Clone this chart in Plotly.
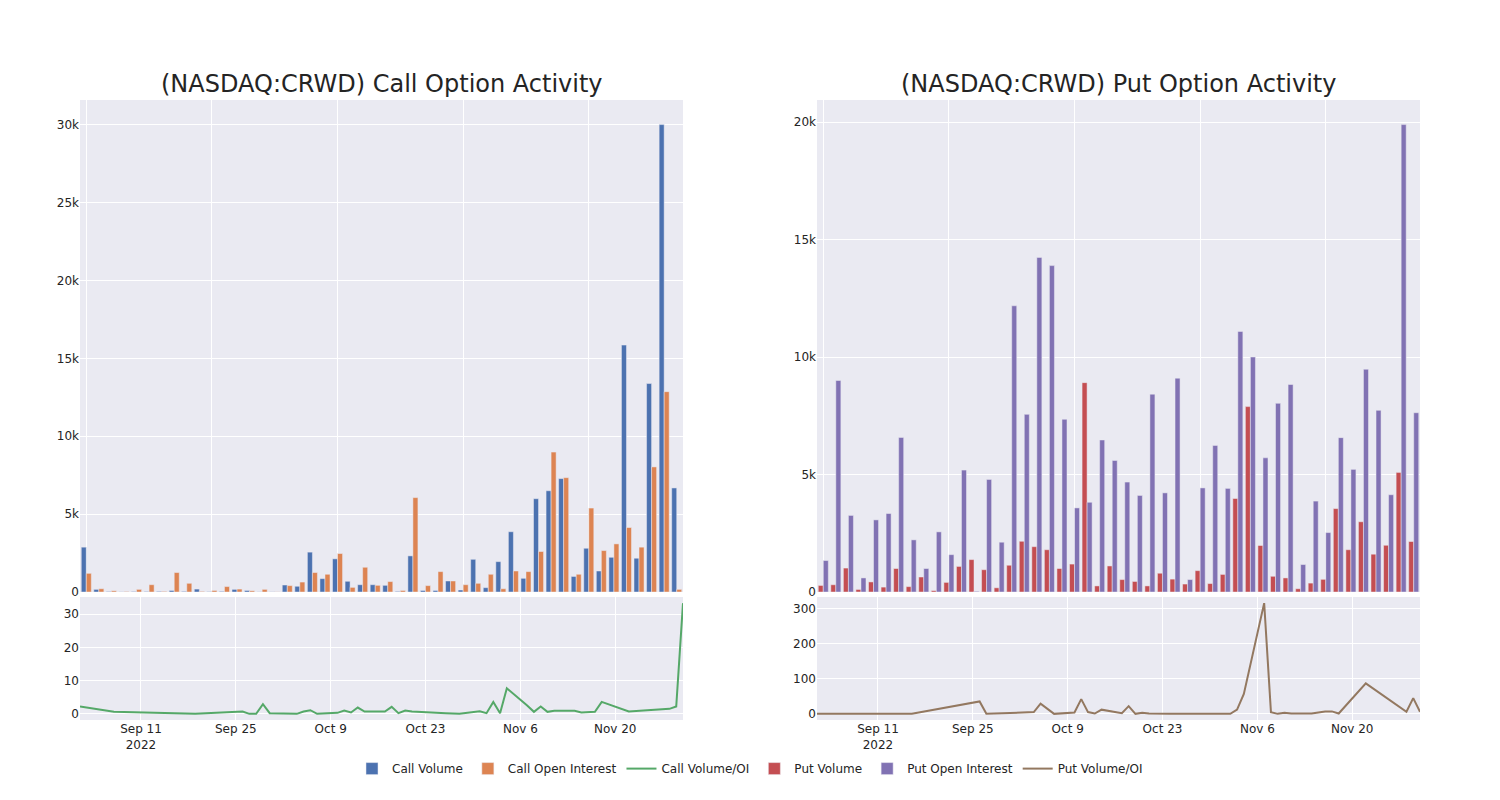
import plotly.graph_objects as go
from plotly.subplots import make_subplots

dates = ["2022-09-02", "2022-09-07", "2022-09-13", "2022-09-14", "2022-09-16", "2022-09-19",
         "2022-09-26", "2022-09-27", "2022-09-28", "2022-09-29", "2022-09-30", "2022-10-04",
         "2022-10-05", "2022-10-06", "2022-10-07", "2022-10-10", "2022-10-11", "2022-10-12",
         "2022-10-13", "2022-10-14", "2022-10-17", "2022-10-18", "2022-10-19", "2022-10-20",
         "2022-10-21", "2022-10-24", "2022-10-25", "2022-10-26", "2022-10-28", "2022-10-31",
         "2022-11-01", "2022-11-02", "2022-11-03", "2022-11-04", "2022-11-07", "2022-11-08",
         "2022-11-09", "2022-11-10", "2022-11-11", "2022-11-14", "2022-11-15", "2022-11-16",
         "2022-11-17", "2022-11-18", "2022-11-22", "2022-11-28", "2022-11-29", "2022-11-30"]

call_volume = [2880, 170, 30, 10, 30, 30, 40, 100, 40, 190, 20, 40, 170, 100, 10, 10,
               450, 370, 2560, 860, 2130, 690, 470, 470, 430, 40, 2320, 100, 100, 710, 130, 2100,
               280, 1950, 3870, 880, 5990, 6500, 7280, 1000, 2810, 1350, 2230, 15850, 2170, 13380,
               30000, 6680]
call_oi = [1200, 210, 80, 30, 170, 470, 40, 1250, 560, 40, 100, 350, 190, 80, 170, 10,
           410, 640, 1250, 1140, 2470, 300, 1590, 430, 670, 100, 6060, 410, 1310, 710, 470, 560,
           1140, 210, 1350, 1310, 2600, 8980, 7340, 1140, 5390, 2660, 3090, 4140, 2880, 8030,
           12860, 170]
call_ratio = [2.2, 0.6, 0.35, 0.3, 0.0, 0.0, 0.7, 0.0, 0.0, 2.9, 0.2, 0.0, 0.7, 1.1, 0.0, 0.3,
              1.0, 0.4, 1.9, 0.7, 0.7, 2.1, 0.2, 1.0, 0.7, 0.3, 0.25, 0.2, 0.0, 0.8, 0.2, 3.6,
              0.2, 7.7, 2.5, 0.6, 2.2, 0.6, 0.9, 0.9, 0.4, 0.4, 0.6, 3.6, 0.7, 1.5, 2.2, 33.3]

put_volume = [280, 310, 1020, 110, 430, 210, 1000, 230, 640, 60, 410, 1090, 1380, 950, 180, 1140,
              2160, 1930, 1800, 1000, 1190, 8910, 260, 1110, 530, 450, 260, 800, 550, 340, 910, 360,
              750, 3980, 7890, 1980, 670, 600, 140, 380, 540, 3550, 1800, 2990, 1610, 1990, 5090, 2150]
put_oi = [1340, 9000, 3260, 600, 3070, 3340, 6580, 2220, 1000, 2560, 1590, 5190, 30, 4790, 2120, 12180,
          7560, 14240, 13890, 7350, 3580, 3820, 6470, 5600, 4680, 4110, 8420, 4220, 9100, 530, 4430, 6240,
          4410, 11090, 10000, 5710, 8030, 8830, 1170, 3870, 2530, 6570, 5220, 9480, 7730, 4140, 19890, 7630]
put_ratio = [0, 0.5, 2, 0, 0, 10, 35.5, 0, 1, 1, 2, 5, 29, 14, 0, 4,
             42, 5, 1, 12, 2, 22, 0, 3, 1, 0.5, 0.5, 0.5, 0.5, 0.5, 0.5, 0,
             12, 57, 316, 5, 0, 3, 1, 1, 4, 7, 7, 1, 87, 6, 45, 6]

titles = ["(NASDAQ:CRWD) Call Option Activity", "(NASDAQ:CRWD) Put Option Activity"]

fig = make_subplots(rows=2, cols=2, row_heights=[0.8, 0.2], vertical_spacing=0.008,
                    horizontal_spacing=0.1, subplot_titles=titles + ["", ""])

fig.add_trace(go.Bar(x=dates, y=call_volume, name="Call Volume"), row=1, col=1)
fig.add_trace(go.Bar(x=dates, y=call_oi, name="Call Open Interest"), row=1, col=1)
fig.add_trace(go.Scatter(x=dates, y=call_ratio, mode="lines", name="Call Volume/OI"), row=2, col=1)
fig.add_trace(go.Bar(x=dates, y=put_volume, name="Put Volume"), row=1, col=2)
fig.add_trace(go.Bar(x=dates, y=put_oi, name="Put Open Interest"), row=1, col=2)
fig.add_trace(go.Scatter(x=dates, y=put_ratio, mode="lines", name="Put Volume/OI"), row=2, col=2)

fig.update_layout(
    template="seaborn",
    width=1500, height=800,
    margin=dict(l=80, r=80, t=100, b=80),
    font=dict(family="DejaVu Sans"),
    barmode="group",
    legend=dict(orientation="h", x=0.5, xanchor="center", y=-0.055, yanchor="top"),
)
for ax in ("xaxis", "xaxis2"):
    fig.layout[ax].update(type="category", showticklabels=False, tickmode="linear", tick0=0, dtick=10)
for ax in ("xaxis3", "xaxis4"):
    fig.layout[ax].update(type="date")
for ax in ("xaxis", "xaxis2", "xaxis3", "xaxis4", "yaxis", "yaxis2", "yaxis3", "yaxis4"):
    fig.layout[ax].automargin = False
for a in fig.layout.annotations:
    a.font.size = 24

# the page body gets no margin so the 1500x800 figure fills the window exactly
fig.write_html("out.html", config={"displayModeBar": False},
               post_script="document.body.style.margin='0px';")
